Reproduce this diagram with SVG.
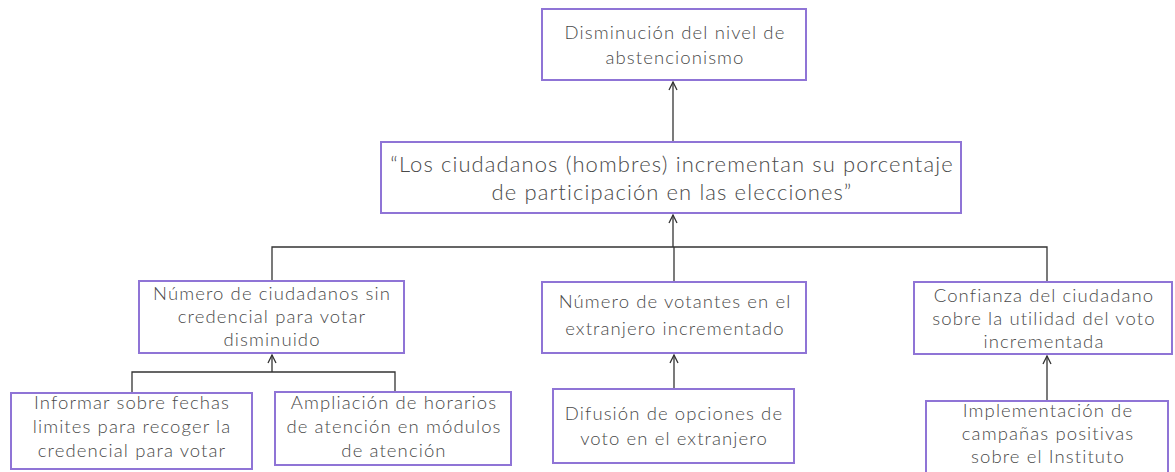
<svg xmlns="http://www.w3.org/2000/svg" width="1175" height="472" viewBox="0 0 1175 472">
<defs>
<style>
.box{fill:#fff;stroke:#8f74d6;stroke-width:2}
.t{font-family:Lato,"Open Sans","Liberation Sans",sans-serif;font-weight:300;fill:#4a4a4a;text-anchor:middle}
.s{font-size:18.5px;letter-spacing:1.1px}
.m{font-size:22px;letter-spacing:1.1px}
.c{stroke:#333;stroke-width:1.3;fill:none}
</style>
<marker id="ah" viewBox="0 0 10 10" refX="9" refY="5" markerWidth="10" markerHeight="10" markerUnits="userSpaceOnUse" orient="auto">
<path d="M1,1 L9,5 L1,9" fill="none" stroke="#333" stroke-width="1.3"/>
</marker>
</defs>
<rect width="1175" height="472" fill="#fff"/>
<g id="connectors">
<line class="c" x1="673" y1="142" x2="673" y2="82" marker-end="url(#ah)"/>
<line class="c" x1="673" y1="247" x2="673" y2="215" marker-end="url(#ah)"/>
<polyline class="c" points="272,281 272,247 1047,247 1047,282"/>
<line class="c" x1="674" y1="247" x2="674" y2="282"/>
<line class="c" x1="272" y1="372" x2="272" y2="355" marker-end="url(#ah)"/>
<polyline class="c" points="132,393 132,372 395,372 395,392"/>
<line class="c" x1="674" y1="389" x2="674" y2="355" marker-end="url(#ah)"/>
<line class="c" x1="1047" y1="401" x2="1047" y2="356" marker-end="url(#ah)"/>
</g>
<g id="n1">
<rect class="box" x="542" y="9" width="264" height="71"/>
<text class="t s" x="675" y="39">Disminución del nivel de</text>
<text class="t s" x="675" y="64">abstencionismo</text>
</g>
<g id="n2">
<rect class="box" x="381" y="142" width="580" height="71"/>
<text class="t m" x="672" y="172">“Los ciudadanos (hombres) incrementan su porcentaje</text>
<text class="t m" x="672" y="200">de participación en las elecciones”</text>
</g>
<g id="n3">
<rect class="box" x="139" y="281" width="265" height="72"/>
<text class="t s" x="272" y="300">Número de ciudadanos sin</text>
<text class="t s" x="272" y="323">credencial para votar</text>
<text class="t s" x="272" y="346">disminuido</text>
</g>
<g id="n4">
<rect class="box" x="542" y="282" width="264" height="71"/>
<text class="t s" x="675" y="308">Número de votantes en el</text>
<text class="t s" x="675" y="335">extranjero incrementado</text>
</g>
<g id="n5">
<rect class="box" x="914" y="282" width="258" height="72"/>
<text class="t s" x="1044" y="302">Confianza del ciudadano</text>
<text class="t s" x="1044" y="325">sobre la utilidad del voto</text>
<text class="t s" x="1044" y="348">incrementada</text>
</g>
<g id="n6">
<rect class="box" x="11" y="393" width="241" height="76"/>
<text class="t s" x="132" y="409">Informar sobre fechas</text>
<text class="t s" x="132" y="433">limites para recoger la</text>
<text class="t s" x="132" y="457">credencial para votar</text>
</g>
<g id="n7">
<rect class="box" x="275" y="392" width="236" height="73"/>
<text class="t s" x="394" y="409">Ampliación de horarios</text>
<text class="t s" x="394" y="433">de atención en módulos</text>
<text class="t s" x="394" y="457">de atención</text>
</g>
<g id="n8">
<rect class="box" x="553" y="389" width="241" height="74"/>
<text class="t s" x="674" y="420">Difusión de opciones de</text>
<text class="t s" x="674" y="445">voto en el extranjero</text>
</g>
<g id="n9">
<rect class="box" x="926" y="401" width="242" height="75"/>
<text class="t s" x="1048" y="417">Implementación de</text>
<text class="t s" x="1048" y="440">campañas positivas</text>
<text class="t s" x="1048" y="463">sobre el Instituto</text>
</g>
</svg>
